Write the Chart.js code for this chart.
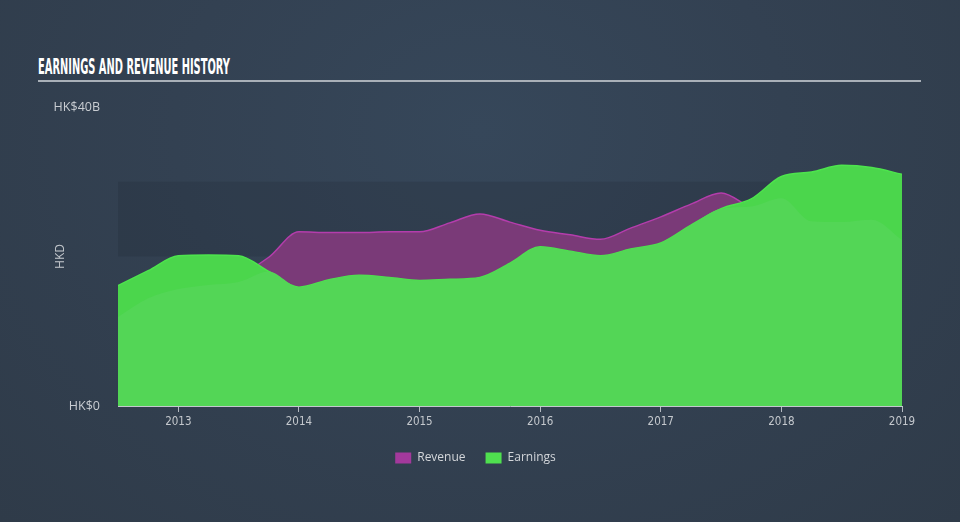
<!DOCTYPE html>
<html>
<head>
<meta charset="utf-8">
<script src="https://cdn.jsdelivr.net/npm/chart.js@4"></script>
<style>
  html, body { margin: 0; padding: 0; }
  body {
    width: 960px; height: 522px; overflow: hidden; position: relative;
    background: radial-gradient(ellipse at 50% 25%, #36475a 0%, #334152 45%, #2f3b49 100%);
    font-family: "Open Sans", "DejaVu Sans", sans-serif;
  }
  #title {
    position: absolute; left: 38px; top: 55px;
    font-family: "Liberation Sans Narrow", "DejaVu Sans Condensed", sans-serif;
    font-weight: bold; font-size: 21px; color: #ffffff; white-space: nowrap;
    transform-origin: 0 0; letter-spacing: 0px;
  }
  #rule {
    position: absolute; left: 38px; top: 80px; width: 883px; height: 2px; background: #a9b0b8;
  }
  #wrap { position: absolute; left: 0; top: 0; width: 960px; height: 522px; }
</style>
</head>
<body>
<div id="title">EARNINGS AND REVENUE HISTORY</div>
<div id="rule"></div>
<div id="wrap"><canvas id="c" width="960" height="522"></canvas></div>
<script>
// ---- data (HK$ billions) ----
const periods = [2012.5, 2012.75, 2013, 2013.25, 2013.5, 2013.75, 2014, 2014.25, 2014.5, 2014.75,
                 2015, 2015.25, 2015.5, 2015.75, 2016, 2016.25, 2016.5, 2016.75, 2017, 2017.25,
                 2017.5, 2017.75, 2018, 2018.25, 2018.5, 2018.75, 2019];
const revenue = [14, 15, 16.5, 17, 17.5, 19.9, 23.3, 23.2, 23.2, 23.3,
                 23.3, 24.5, 25.7, 24.6, 23.5, 22.9, 22.3, 23.8, 25.3, 27.0,
                 28.5, 26.5, 25, 24, 24, 24, 23];
const earnings = [16.1, 18.1, 20.1, 20.2, 20.1, 18.0, 15.9, 16.9, 17.5, 17.2,
                  16.8, 16.95, 17.2, 19.1, 21.3, 20.7, 20.1, 21.0, 21.8, 24.2,
                  26.4, 27.7, 30.7, 31.3, 32.2, 31.9, 31.0];
const earningsPrior = [11.9, 14.4, 15.65, 16.2, 16.6, 18.0, 15.9, 16.9, 17.5, 17.2,
                       16.8, 16.95, 17.2, 19.1, 21.3, 20.7, 20.1, 21.0, 21.8, 24.2,
                       26.4, 26.7, 27.8, 24.7, 24.6, 24.9, 22.2];
const yearTicks = [2013, 2014, 2015, 2016, 2017, 2018, 2019];
const yTicks = [0, 40];
const seriesNames = ['Revenue', 'Earnings'];
const legendColors = ['#a3399c', '#4fe04f'];

// fit title width
(function () {
  const t = document.getElementById('title');
  const w = t.getBoundingClientRect().width;
  t.style.transform = 'scaleX(' + (192 / w) + ')';
})();

const pts = (arr) => arr.map((v, i) => ({ x: periods[i], y: v }));

const bandPlugin = {
  id: 'band',
  beforeDatasetsDraw(chart) {
    const { ctx, chartArea, scales } = chart;
    const yTop = scales.y.getPixelForValue(30);
    const yBot = scales.y.getPixelForValue(20);
    ctx.save();
    ctx.fillStyle = 'rgba(35,46,60,0.3)';
    ctx.fillRect(chartArea.left, yTop, chartArea.right - chartArea.left, yBot - yTop);
    ctx.restore();
  }
};

new Chart(document.getElementById('c'), {
  type: 'line',
  data: {
    datasets: [
      {
        label: 'EarningsPrior',
        data: pts(earningsPrior),
        fill: 'origin',
        backgroundColor: '#53d656',
        borderWidth: 0,
        pointRadius: 0,
        cubicInterpolationMode: 'monotone'
      },
      {
        label: seriesNames[1],
        data: pts(earnings),
        fill: 'origin',
        backgroundColor: '#4bd64c',
        borderColor: '#4de44d',
        borderWidth: 1.5,
        pointRadius: 0,
        cubicInterpolationMode: 'monotone'
      },
      {
        label: seriesNames[0],
        data: pts(revenue),
        fill: 'origin',
        backgroundColor: '#7a3a78',
        borderColor: '#b43dac',
        borderWidth: 1.5,
        pointRadius: 0,
        cubicInterpolationMode: 'monotone'
      }
    ]
  },
  options: {
    responsive: false,
    animation: false,
    layout: { padding: { left: 49, right: 58, top: 107, bottom: 48 } },
    plugins: {
      tooltip: { enabled: false },
      legend: {
        position: 'bottom',
        labels: {
          boxWidth: 16,
          boxHeight: 11,
          padding: 20,
          color: '#d3d6da',
          font: { family: '"Open Sans", sans-serif', size: 12 },
          generateLabels: () => seriesNames.map((n, i) => ({
            text: n, fillStyle: legendColors[i], strokeStyle: legendColors[i],
            lineWidth: 0, hidden: false, datasetIndex: 2 - i, fontColor: '#d3d6da'
          }))
        }
      }
    },
    scales: {
      x: {
        type: 'linear',
        min: periods[0],
        max: periods[periods.length - 1],
        afterBuildTicks: (s) => { s.ticks = yearTicks.map(v => ({ value: v })); },
        afterFit: (s) => { s.height = 26; },
        grid: { display: true, drawOnChartArea: false, drawTicks: true, tickLength: 6, color: '#b4bac1' },
        border: { display: true, color: '#c3c8ce', width: 1 },
        ticks: {
          color: '#c4c8cd', padding: 3, maxRotation: 0, autoSkip: false,
          font: { family: '"DejaVu Sans Condensed", "Liberation Sans Narrow", sans-serif', size: 11.5 },
          callback: (v) => String(v)
        }
      },
      y: {
        min: 0,
        max: 40,
        afterBuildTicks: (s) => { s.ticks = yTicks.map(v => ({ value: v })); },
        afterFit: (s) => { s.width = 69; },
        grid: { display: false },
        border: { display: false },
        title: {
          display: true, text: 'HKD', color: '#c4c8cd',
          font: { family: '"Open Sans", sans-serif', size: 12 }, padding: { top: 4, bottom: 0 }
        },
        ticks: {
          color: '#c9cdd2', padding: 10,
          font: { family: '"Open Sans", sans-serif', size: 12.5 },
          callback: (v) => v === 0 ? 'HK$0' : 'HK$' + v + 'B'
        }
      }
    }
  },
  plugins: [bandPlugin]
});
</script>
</body>
</html>
